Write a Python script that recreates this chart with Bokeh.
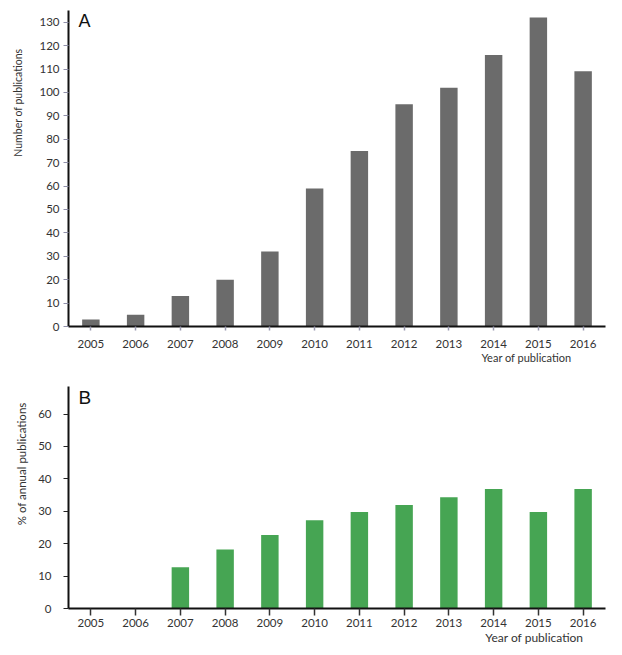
import math
from bokeh.plotting import figure
from bokeh.models import Label, FixedTicker, Range1d, FactorRange, ColumnDataSource, Title
from bokeh.layouts import column
from bokeh.embed import file_html
from bokeh.resources import INLINE

years = ["2005", "2006", "2007", "2008", "2009", "2010", "2011", "2012", "2013", "2014", "2015", "2016"]
publications = [3, 5, 13, 20, 32, 59, 75, 95, 102, 116, 132, 109]
percent_annual = [0, 0, 12.7, 18.2, 22.7, 27.2, 29.8, 31.9, 34.3, 36.9, 29.8, 36.9]
ticks_a = list(range(0, 131, 10))
ticks_b = list(range(0, 61, 10))

FONT = "Lato"
TXT = "#333333"


def style(p, ytick_color, xtick_color, xtick_out, ylab_standoff, xlab_standoff):
    p.outline_line_color = None
    p.xgrid.grid_line_color = None
    p.ygrid.grid_line_color = None
    p.background_fill_color = "white"
    p.border_fill_color = "white"
    for ax in (p.xaxis[0], p.yaxis[0]):
        ax.axis_line_color = "#111111"
        ax.axis_line_width = 2
        ax.minor_tick_line_color = None
        ax.major_label_text_font = FONT
        ax.major_label_text_color = TXT
        ax.major_tick_in = 0
    p.yaxis[0].major_label_text_font_size = "11.5px"
    p.xaxis[0].major_label_text_font_size = "11.5px"
    p.yaxis[0].major_tick_out = 5
    p.yaxis[0].major_tick_line_color = ytick_color
    p.yaxis[0].major_label_standoff = ylab_standoff
    p.xaxis[0].major_tick_out = xtick_out
    p.xaxis[0].major_tick_line_color = xtick_color
    p.xaxis[0].major_tick_line_width = 1.5
    p.xaxis[0].major_label_standoff = xlab_standoff


def side_title(text, size, offset, standoff, valign):
    return Title(text=text, align="right", offset=offset, standoff=standoff,
                 vertical_align=valign, text_font=FONT, text_font_size=size,
                 text_font_style="normal", text_color=TXT)


# ---------- Panel A ----------
src_a = ColumnDataSource(dict(year=years, n=publications))
pa = figure(x_range=FactorRange(*years), y_range=Range1d(0, 135),
            width=615, height=372, output_backend="svg", toolbar_location=None,
            min_border_left=67, min_border_right=10, min_border_top=10, min_border_bottom=46)
pa.vbar(x="year", top="n", width=0.39, source=src_a, fill_color="#6b6b6b", line_color=None)
pa.yaxis[0].ticker = FixedTicker(ticks=ticks_a)
style(pa, "#8f8fa8", "#9a9ab0", 4, 4, 9)

pa.add_layout(Label(x=10, y=135, x_units="screen", y_units="data", text="A",
                    text_font="Liberation Sans", text_font_size="18px",
                    text_color="#111111", text_baseline="top", text_align="left"))
pa.add_layout(side_title("Number of publications", "10.5px", 38, 22, "top"), "left")
pa.add_layout(side_title("Year of publication", "11px", 34, 1, "top"), "below")

# ---------- Panel B ----------
src_b = ColumnDataSource(dict(year=years, pct=percent_annual))
pb = figure(x_range=FactorRange(*years), y_range=Range1d(0, 68.5),
            width=615, height=281, output_backend="svg", toolbar_location=None,
            min_border_left=67, min_border_right=10, min_border_top=14, min_border_bottom=45)
pb.vbar(x="year", top="pct", width=0.39, source=src_b, fill_color="#46a553", line_color=None)
pb.yaxis[0].ticker = FixedTicker(ticks=ticks_b)
style(pb, "#222222", "#333333", 7, 12, 3)

pb.add_layout(Label(x=10, y=68.5, x_units="screen", y_units="data", text="B",
                    text_font="Liberation Sans", text_font_size="19px",
                    text_color="#111111", text_baseline="top", text_align="left"))
pb.add_layout(side_title("% of annual publications", "11.5px", 16, 12, "top"), "left")
pb.add_layout(side_title("Year of publication", "12px", 22, 1, "top"), "below")

layout = column(pa, pb, spacing=0)
open("out.html", "w").write(file_html(layout, INLINE))
